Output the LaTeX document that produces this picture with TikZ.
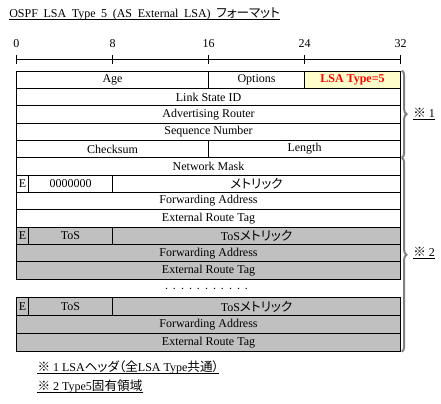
\documentclass[tikz,border=0pt]{standalone}
\usepackage{fontspec}
\setmainfont{Liberation Serif}
\newfontfamily\jp[Scale=1.05, RawFeature={+palt}]{Noto Sans CJK JP}
\usetikzlibrary{decorations.pathreplacing}
\definecolor{cellgray}{RGB}{192,192,192}
\definecolor{typeyellow}{RGB}{255,255,204}
\definecolor{bracegray}{RGB}{128,128,128}

\begin{document}
\begin{tikzpicture}[
            x = 0.75pt, y = -0.75pt,
            txt/.style = {inner sep = 0mm, font = \fontsize{9}{11}\selectfont},
            field/.style = {txt, draw, line width = 0.75pt, minimum height = 13.01pt},
            ext/.style = {field, fill = cellgray},
            last/.style = {ext, minimum height = 13.43pt},
            ul/.style = {draw, line width = 0.7pt},
            brc/.style = {draw = bracegray, line width = 1.5pt, decorate, decoration = {brace, amplitude = 3.5pt}},
        ]
        \useasboundingbox (0,0) rectangle (441,403);

        \node (TITLE) [txt, anchor = base west] at (9, 17.5) {\spaceskip = 4.2pt OSPF LSA Type 5 (AS External LSA) {\jp フォーマット}};
        \path[ul] ([yshift = -1.4pt]TITLE.base west) -- ([yshift = -1.4pt]TITLE.base east);

        % bit ruler
        \draw[line width = 0.75pt] (16.5, 59.3) -- (400.5, 59.3);
        \foreach \b/\x in {0/16.5, 8/112.5, 16/208.5, 24/304.5, 32/400.5} {
            \draw[line width = 0.75pt] (\x, 55) -- (\x, 63.5);
            \node (B\b) [txt] at (\x, 44) {\b};
        }

        % LSA header
        \node (AGE) [field, minimum width = 144pt] at (112.5, 79.7) {Age};
        \node (OPT) [field, minimum width = 72pt] at (256.5, 79.7) {Options};
        \node (TYPE) [field, minimum width = 72pt, fill = typeyellow, text = red, font = \fontsize{9}{11}\selectfont\bfseries] at (352.5, 79.7) {LSA Type=5};
        \node (LSID) [field, minimum width = 288pt] at (208.5, 97.0) {Link State ID};
        \node (ADV) [field, minimum width = 288pt] at (208.5, 114.4) {Advertising Router};
        \node (SEQ) [field, minimum width = 288pt] at (208.5, 131.7) {Sequence Number};
        \node (CSUM) [field, minimum width = 144pt] at (112.5, 149.1) {Checksum};
        \node (LEN) [field, minimum width = 144pt] at (304.5, 149.1) {Length};

        % type 5 body
        \node (MASK) [field, minimum width = 288pt] at (208.5, 166.4) {Network Mask};
        \node (E0) [field, minimum width = 9pt] at (22.5, 183.8) {E};
        \node (Z0) [field, minimum width = 63pt] at (70.5, 183.8) {0000000};
        \node (M0) [field, minimum width = 216pt] at (256.5, 183.8) {\jp メトリック};
        \node (FA0) [field, minimum width = 288pt] at (208.5, 201.1) {Forwarding Address};
        \node (TAG0) [field, minimum width = 288pt] at (208.5, 218.5) {External Route Tag};

        \node (E1) [ext, minimum width = 9pt] at (22.5, 235.8) {E};
        \node (TOS1) [ext, minimum width = 63pt] at (70.5, 235.8) {ToS};
        \node (TM1) [ext, minimum width = 216pt] at (256.5, 235.8) {ToS\jp メトリック};
        \node (FA1) [ext, minimum width = 288pt] at (208.5, 253.2) {Forwarding Address};
        \node (TAG1) [ext, minimum width = 288pt] at (208.5, 270.5) {External Route Tag};

        \node (DOTS) [txt, anchor = base] at (206.5, 289.5) {\spaceskip = 3pt . . . . . . . . . . .};

        \node (E2) [last, minimum width = 9pt] at (22.5, 306.45) {E};
        \node (TOS2) [last, minimum width = 63pt] at (70.5, 306.45) {ToS};
        \node (TM2) [last, minimum width = 216pt] at (256.5, 306.45) {ToS\jp メトリック};
        \node (FA2) [last, minimum width = 288pt] at (208.5, 324.35) {Forwarding Address};
        \node (TAG2) [last, minimum width = 288pt] at (208.5, 342.25) {External Route Tag};

        % braces and notes
        \path[brc] ([xshift = 0.6pt]TYPE.north east) -- ([xshift = 0.6pt, yshift = 0.4pt]LEN.south east);
        \path[brc] ([xshift = 0.6pt, yshift = -0.4pt]MASK.north east) -- ([xshift = 0.6pt]TAG2.south east);

        \node (R1) [txt, anchor = base west] at (413, 117.3) {{\jp ※} 1};
        \node (R2) [txt, anchor = base west] at (413, 256.5) {{\jp ※} 2};
        \node (N1) [txt, anchor = base west] at (37.3, 371.3) {{\jp ※} 1 LSA{\jp ヘッダ（全}LSA Type{\jp 共通）}};
        \node (N2) [txt, anchor = base west] at (37.3, 390.5) {{\jp ※} 2 Type5{\jp 固有領域}};

        \path[ul] ([yshift = -1.4pt]R1.base west) -- ([yshift = -1.4pt]R1.base east);
        \path[ul] ([yshift = -1.4pt]R2.base west) -- ([yshift = -1.4pt]R2.base east);
        \path[ul] ([yshift = -1.4pt]N1.base west) -- ([yshift = -1.4pt]N1.base east);
        \path[ul] ([yshift = -1.4pt]N2.base west) -- ([yshift = -1.4pt]N2.base east);
    \end{tikzpicture}
\end{document}
